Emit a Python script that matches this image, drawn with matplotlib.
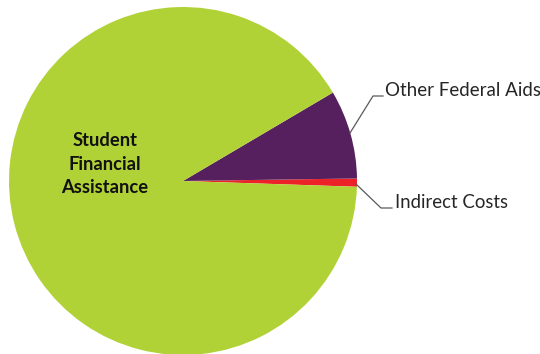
import matplotlib
matplotlib.use("Agg")
import matplotlib.pyplot as plt

# Budget shares (percent)
labels = ["Indirect Costs", "Other Federal Aids", "Student Financial Assistance"]
shares = [0.76, 8.25, 90.99]
colors = ["#ED2229", "#561F5D", "#B1D236"]

W, H = 540, 354
fig = plt.figure(figsize=(W / 100, H / 100), dpi=100)
ax = fig.add_axes([0, 0, 1, 1])

# pie center / radius in pixel units (y measured from the top)
cx, cy, r = 183, 181, 174

ax.pie(shares, colors=colors, startangle=-1.9, counterclock=True,
       center=(cx, H - cy), radius=r, frame=True,
       wedgeprops=dict(linewidth=0))

ax.set_xlim(0, W)
ax.set_ylim(0, H)
ax.set_aspect("equal")
ax.axis("off")

font = "Lato"

# label inside the big slice
ax.text(105, H - 164, "Student\nFinancial\nAssistance", ha="center", va="center",
        fontsize=13.2, fontweight="bold", family=font, color="#111111",
        linespacing=1.45)

# leader lines to the small slices
line_kw = dict(color="#595959", linewidth=0.9)
ax.plot([350, 373, 383], [H - 133, H - 96, H - 96], **line_kw)
ax.plot([356, 381, 392], [H - 184, H - 208, H - 208], **line_kw)

ax.text(385, H - 91, labels[1], ha="left", va="center",
        fontsize=13.5, family=font, color="#262626")
ax.text(395, H - 203, labels[0], ha="left", va="center",
        fontsize=13.4, family=font, color="#262626")

fig.savefig("out.png", dpi=100, facecolor="white")
